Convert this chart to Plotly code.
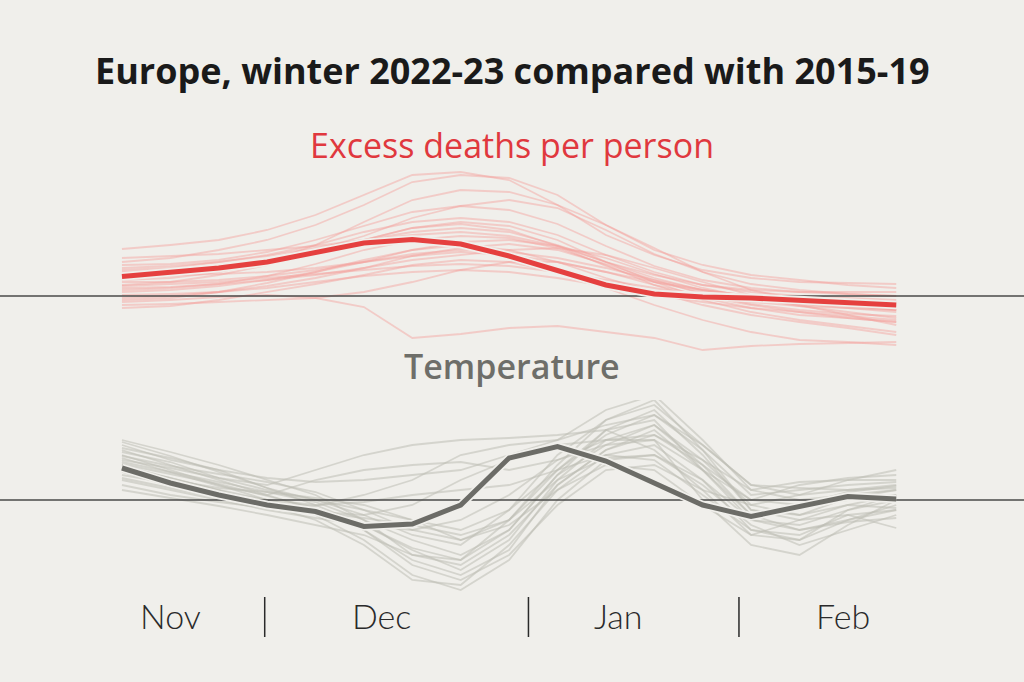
import plotly.graph_objects as go

weeks = list(range(17))

# Excess deaths (per million people per week, relative to 2015-19)
deaths_avg = [19.5, 23.5, 28, 34, 43, 53, 56.5, 52, 40, 25, 11, 2, -1, -2, -4, -6, -9]
deaths_countries = [
    [47, 51, 56, 66, 81, 101, 121, 124, 116, 91, 61, 41, 26, 18, 14, 13, 12],
    [34, 38, 46, 56, 71, 91, 114, 121, 118, 101, 71, 46, 31, 21, 16, 11, 8],
    [16, 18, 24, 34, 51, 74, 96, 106, 104, 91, 71, 48, 24, 6, -4, -9, -14],
    [26, 28, 34, 41, 51, 64, 74, 78, 74, 61, 41, 24, 11, 4, 0, -2, -4],
    [11, 14, 21, 31, 44, 56, 68, 74, 70, 56, 34, 14, -2, -12, -19, -22, -26],
    [6, 8, 12, 20, 32, 46, 56, 60, 58, 48, 31, 11, -4, -16, -24, -30, -36],
    [-4, -2, 4, 13, 24, 36, 46, 51, 46, 34, 18, 4, -9, -19, -26, -32, -39],
    [-12, -10, -4, 4, 12, 21, 31, 36, 34, 24, 8, -9, -24, -36, -44, -46, -49],
    [-6, -4, -1, 1, -2, -11, -42, -38, -32, -30, -36, -42, -54, -50, -48, -47, -46],
    [21, 21, 22, 24, 28, 34, 40, 44, 41, 34, 24, 14, 6, 0, -4, -7, -10],
    [1, 2, 4, 8, 14, 20, 24, 26, 24, 18, 10, 1, -6, -12, -16, -20, -24],
    [28, 30, 34, 40, 48, 56, 64, 68, 64, 51, 34, 18, 6, -1, -6, -10, -14],
    [14, 14, 16, 20, 26, 34, 42, 46, 44, 38, 28, 16, 6, 0, -2, -4, -6],
    [-9, -8, -6, -4, -2, 4, 14, 26, 34, 34, 24, 11, 0, -9, -16, -22, -26],
    [38, 40, 42, 46, 50, 56, 61, 64, 60, 50, 34, 21, 11, 6, 4, 4, 4],
    [8, 9, 12, 16, 21, 28, 36, 41, 46, 48, 41, 28, 14, 1, -9, -19, -29],
    [24, 26, 30, 36, 46, 60, 78, 90, 96, 88, 66, 42, 24, 12, 6, 2, 0],
    [4, 6, 10, 16, 24, 34, 46, 54, 56, 50, 38, 22, 8, -2, -10, -16, -22],
    [18, 20, 26, 34, 44, 56, 68, 72, 66, 50, 30, 14, 4, -4, -8, -12, -16],
    [-2, 0, 4, 10, 18, 28, 40, 48, 52, 46, 32, 16, 2, -8, -14, -18, -20],
    [31, 32, 36, 44, 56, 70, 84, 90, 86, 72, 50, 30, 16, 8, 4, 2, 0],
    [10, 12, 14, 18, 22, 26, 30, 32, 30, 24, 16, 8, 0, -6, -10, -12, -14],
]

# Temperature anomaly (°C relative to 2015-19)
temp_avg = [3.2, 1.7, 0.5, -0.5, -1.15, -2.65, -2.4, -0.5, 4.2, 5.35, 3.9, 1.7, -0.5, -1.65, -0.65, 0.35, 0.1]
temp_countries = [
    [6.0, 4.8, 3.5, 2.0, 0.5, -2.0, -5.5, -6.0, -2.0, 3.0, 7.0, 8.0, 3.0, -1.5, -0.5, 0.8, 1.4],
    [5.5, 4.0, 3.0, 2.2, 1.8, 2.0, 2.5, 3.0, 4.5, 6.0, 9.0, 10.5, 6.0, 1.0, 0.0, 0.5, 1.0],
    [4.5, 3.0, 1.5, 0.0, -1.5, -4.0, -7.5, -9.0, -6.0, 0.0, 4.0, 4.5, 2.0, -3.0, -4.0, -2.0, -0.5],
    [4.0, 3.2, 2.2, 1.5, 3.0, 4.5, 5.5, 6.0, 6.2, 6.5, 7.0, 5.0, 1.0, -0.5, 0.5, 2.0, 3.0],
    [3.5, 2.2, 1.0, 0.0, -1.0, -2.5, -5.0, -7.0, -4.0, 2.0, 6.0, 6.0, 0.0, -4.5, -5.5, -2.5, 0.0],
    [3.0, 2.0, 1.2, 0.8, 0.2, -0.5, -2.0, -4.0, -2.0, 3.5, 8.0, 10.0, 5.0, -1.0, -1.5, -0.5, 0.5],
    [5.0, 3.5, 2.0, 0.5, -1.0, -3.0, -6.0, -7.5, -5.0, 1.5, 5.0, 7.0, 3.0, -2.0, -2.5, -1.0, 0.0],
    [2.5, 1.7, 0.8, 0.0, -0.5, -0.2, 0.5, 1.0, 1.5, 3.0, 4.5, 4.0, 0.5, -3.0, -3.5, -1.5, -1.0],
    [4.2, 2.8, 1.4, 0.5, 2.0, 3.0, 3.5, 3.8, 3.0, 4.0, 6.0, 7.5, 3.5, 0.0, 1.5, 2.2, 2.5],
    [3.2, 2.2, 1.0, -0.5, -2.0, -4.5, -8.0, -8.5, -4.5, 1.0, 4.5, 5.5, 2.0, -2.0, -3.0, -2.2, -1.8],
    [2.0, 1.0, 0.0, -1.0, -1.8, -2.5, -3.0, -2.0, 0.5, 4.0, 5.5, 6.0, 3.0, 0.0, -0.5, 0.0, 0.5],
    [4.8, 3.8, 2.2, 1.0, 0.0, -1.0, -2.0, -3.0, -1.0, 3.0, 6.5, 8.5, 5.0, 0.5, 1.0, 1.5, 1.8],
    [3.8, 2.8, 1.8, 0.8, -0.2, -2.0, -4.0, -5.5, -3.0, 2.5, 7.0, 9.0, 4.5, -1.0, -2.0, -1.5, -2.8],
    [2.8, 1.4, 0.4, -0.6, -1.2, -1.5, -0.5, 2.0, 4.0, 5.5, 6.0, 6.5, 4.0, 1.0, 1.8, 2.0, 2.0],
    [5.2, 4.2, 3.0, 1.2, -0.5, -2.5, -4.8, -6.0, -3.0, 2.5, 5.5, 7.5, 4.0, -0.5, -1.5, 0.2, 1.0],
    [1.5, 0.5, -0.2, -0.8, -1.2, -1.8, -2.5, -3.5, -2.0, 2.0, 4.2, 4.5, 1.5, -2.5, -4.5, -3.0, -1.5],
    [5.8, 4.4, 2.8, 1.2, 0.0, -1.5, -3.5, -4.5, -1.0, 4.5, 8.0, 9.5, 5.5, 1.5, 0.5, 1.0, 1.5],
    [3.6, 2.6, 1.6, 0.4, -0.8, -3.0, -6.5, -8.0, -5.5, -0.5, 3.0, 3.5, 1.0, -3.5, -4.0, -1.0, 0.5],
    [2.2, 1.2, 0.2, -0.4, -0.6, 0.5, 2.0, 4.5, 5.5, 6.0, 7.5, 8.5, 5.5, 1.5, 1.2, 1.0, 1.2],
    [4.4, 3.4, 2.6, 1.8, 0.8, -1.0, -3.0, -4.0, -2.5, 1.0, 3.5, 3.0, -0.5, -3.5, -2.0, -0.5, -0.8],
    [1.0, 0.2, -0.6, -1.5, -2.5, -3.5, -5.5, -6.5, -3.5, 1.5, 5.0, 6.5, 3.5, -1.5, -3.0, -2.0, -1.0],
]

month_labels = ["Nov", "Dec", "Jan", "Feb"]
month_label_pos = [1.0, 5.37, 10.27, 14.9]
month_breaks = [2.95, 8.4, 12.75]

BG = "#f0efeb"
X_RANGE = [-2.52, 18.64]

fig = go.Figure()

for ys in deaths_countries:
    fig.add_trace(go.Scatter(x=weeks, y=ys, mode="lines", xaxis="x", yaxis="y",
                             line=dict(color="rgba(243,160,155,0.45)", width=1.8),
                             hoverinfo="skip", showlegend=False))
fig.add_trace(go.Scatter(x=X_RANGE, y=[0, 0], mode="lines", xaxis="x", yaxis="y",
                         line=dict(color="#4a4a48", width=1.6), hoverinfo="skip", showlegend=False))
fig.add_trace(go.Scatter(x=weeks, y=deaths_avg, mode="lines", xaxis="x", yaxis="y",
                         line=dict(color=BG, width=8.5), hoverinfo="skip", showlegend=False))
fig.add_trace(go.Scatter(x=weeks, y=deaths_avg, mode="lines", xaxis="x", yaxis="y",
                         line=dict(color="#e5403f", width=5), showlegend=False))

for ys in temp_countries:
    fig.add_trace(go.Scatter(x=weeks, y=ys, mode="lines", xaxis="x", yaxis="y2",
                             line=dict(color="rgba(190,190,180,0.55)", width=1.8),
                             hoverinfo="skip", showlegend=False))
fig.add_trace(go.Scatter(x=X_RANGE, y=[0, 0], mode="lines", xaxis="x", yaxis="y2",
                         line=dict(color="#4a4a48", width=1.6), hoverinfo="skip", showlegend=False))
fig.add_trace(go.Scatter(x=weeks, y=temp_avg, mode="lines", xaxis="x", yaxis="y2",
                         line=dict(color=BG, width=8.5), hoverinfo="skip", showlegend=False))
fig.add_trace(go.Scatter(x=weeks, y=temp_avg, mode="lines", xaxis="x", yaxis="y2",
                         line=dict(color="#6c6c67", width=5), showlegend=False))

annotations = [
    dict(text="<b>Europe, winter 2022-23 compared with 2015-19</b>", x=0.5, y=1 - 70 / 682,
         xref="paper", yref="paper", showarrow=False, xanchor="center", yanchor="middle",
         font=dict(family="Open Sans", size=36, color="#1a1a1a")),
    dict(text="Excess deaths per person", x=0.5, y=1 - 145 / 682,
         xref="paper", yref="paper", showarrow=False, xanchor="center", yanchor="middle",
         font=dict(family="Open Sans", size=34, color="#e0383e", weight=500)),
    dict(text="Temperature", x=0.5, y=1 - 366 / 682,
         xref="paper", yref="paper", showarrow=False, xanchor="center", yanchor="middle",
         font=dict(family="Open Sans", size=34, color="#6e6e69", weight=600)),
]
for lab, pos in zip(month_labels, month_label_pos):
    annotations.append(dict(text=lab, x=pos, y=1 - 615 / 682, xref="x", yref="paper",
                            showarrow=False, xanchor="center", yanchor="middle",
                            font=dict(family="Lato", size=34, color="#2a2a2a", weight=300)))

shapes = []
for b in month_breaks:
    shapes.append(dict(type="line", x0=b, x1=b, xref="x", y0=1 - 637 / 682, y1=1 - 597 / 682,
                       yref="paper", line=dict(color="#2a2a2a", width=1.5)))

fig.update_layout(
    width=1024, height=682,
    margin=dict(l=0, r=0, t=0, b=0),
    paper_bgcolor=BG, plot_bgcolor=BG,
    xaxis=dict(range=X_RANGE, visible=False, fixedrange=True),
    yaxis=dict(range=[-80, 160], domain=[(682 - 376) / 682, (682 - 136) / 682], visible=False),
    yaxis2=dict(range=[-10, 10], domain=[(682 - 600) / 682, (682 - 400) / 682], visible=False),
    annotations=annotations,
    shapes=shapes,
    showlegend=False,
)

fig.write_html("out.html", config={"displayModeBar": False},
               post_script="document.body.style.margin='0';document.body.style.background='#f0efeb';")
